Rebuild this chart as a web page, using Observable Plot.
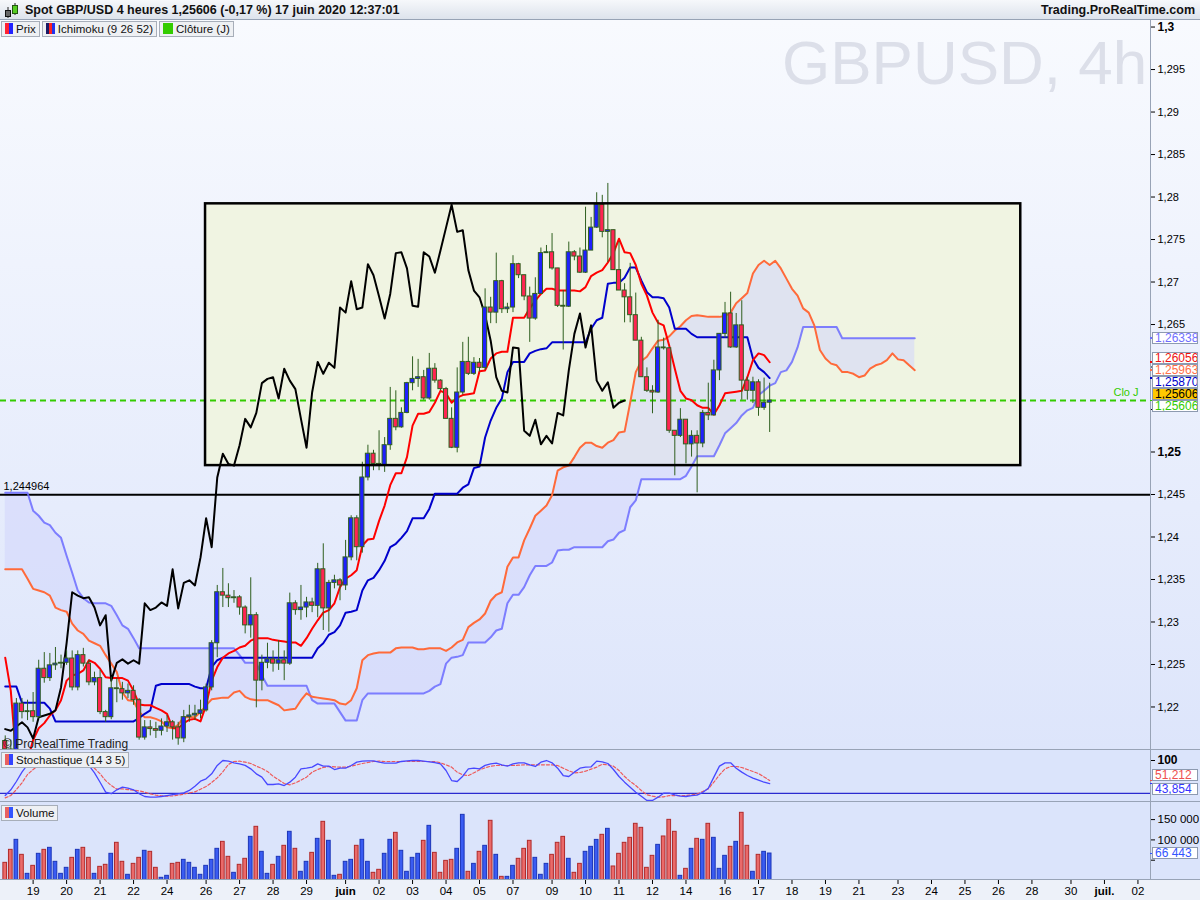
<!DOCTYPE html>
<html><head><meta charset="utf-8">
<script src="https://cdn.jsdelivr.net/npm/d3@7"></script>
<script src="https://cdn.jsdelivr.net/npm/@observablehq/plot@0.6"></script>
<style>
body{margin:0;background:#fff;font-family:"Liberation Sans",Arial,sans-serif;}
#root{position:relative;width:1200px;height:900px;overflow:hidden;}
.a{position:absolute;}
.chips{position:absolute;display:flex;gap:2px;}
.chip{height:16px;border:1px solid #a7aeb9;background:#eef0f3;font-size:11.5px;line-height:15px;color:#111;white-space:nowrap;box-sizing:border-box;padding:0 3px 0 3px;}
.chip i{display:inline-block;width:4px;height:11px;vertical-align:-1px;}
.vbox{position:absolute;left:1152px;width:46px;height:12px;box-sizing:border-box;border:1px solid #8d9ab0;background:#fff;font-size:12px;line-height:10px;padding-left:2px;white-space:nowrap;overflow:hidden;}
.hsep{position:absolute;left:0;width:1200px;height:1px;background:#98a3b6;}
</style></head><body>
<div id="root">
  <div class="a" style="left:0;top:20px;width:1200px;height:730px;background:linear-gradient(#f8fafe,#dde5fb);"></div>
  <div class="a" style="left:0;top:750px;width:1200px;height:52px;background:#dbe4fb;"></div>
  <div class="a" style="left:0;top:802px;width:1200px;height:78px;background:#dbe4fb;"></div>
  <div class="a" style="left:0;top:880px;width:1200px;height:20px;background:#edf1f9;"></div>
  <div class="a" style="left:782px;top:32px;font-size:62px;line-height:62px;color:#dcdfe9;white-space:nowrap;">GBPUSD, 4h</div>
  <div class="a" id="pricePlot" style="left:0;top:20px;"></div>
  <div class="a" id="stochPlot" style="left:0;top:750px;"></div>
  <div class="a" id="volPlot" style="left:0;top:802px;"></div>
  <div class="hsep" style="top:749px"></div>
  <div class="hsep" style="top:801px"></div>
  <div class="hsep" style="top:879px"></div>
  <div class="a" style="left:1150px;top:20px;width:1px;height:860px;background:#98a3b6;"></div>
  <div class="a" style="left:0;top:0;width:1200px;height:20px;background:linear-gradient(#f6f8fb,#dde3ec);border-bottom:1px solid #97a3b5;box-sizing:border-box;"></div>
  <svg class="a" style="left:3px;top:2px" width="18" height="17"><line x1="5" y1="5" x2="5" y2="16" stroke="#222"/><rect x="2.5" y="8.5" width="5" height="6" fill="#666" stroke="#111"/><line x1="12" y1="1" x2="12" y2="13" stroke="#222"/><rect x="9.5" y="3.5" width="5" height="8" fill="#55cc22" stroke="#225511"/></svg>
  <div class="a" style="left:25px;top:3px;font-size:12.5px;font-weight:bold;color:#111;white-space:nowrap;">Spot GBP/USD 4 heures 1,25606 (-0,17 %) 17 juin 2020 12:37:01</div>
  <div class="a" style="right:5px;top:3px;font-size:12.5px;font-weight:bold;color:#111;">Trading.ProRealTime.com</div>
  <div class="chips" style="left:1px;top:21px;">
    <div class="chip"><i style="background:#ff2233"></i><i style="background:#2222ff;margin-right:3px"></i>Prix</div>
    <div class="chip"><i style="background:#1a1a66;width:3px"></i><i style="background:#ff2222;width:3px"></i><i style="background:#2233ee;width:3px;margin-right:3px"></i>Ichimoku (9 26 52)</div>
    <div class="chip"><i style="background:#33cc00;width:10px;margin-right:3px"></i>Clôture (J)</div>
  </div>
  <div class="a" style="left:3px;top:737px;font-size:12px;color:#222;white-space:nowrap;">© ProRealTime Trading</div>
  <div class="chips" style="left:1px;top:752px;">
    <div class="chip"><i style="background:#e86060"></i><i style="background:#3344ff;margin-right:3px"></i>Stochastique (14 3 5)</div>
  </div>
  <div class="chips" style="left:1px;top:805px;">
    <div class="chip"><i style="background:#e86060"></i><i style="background:#3355ff;margin-right:3px"></i>Volume</div>
  </div>
  <div id="labels"></div>
</div>
<script>
// ---------- DATA ----------
const opens = [
1.2160,1.2150,1.2146,1.2204,1.2194,1.2195,1.2188,1.2245,1.2234,1.2249,
1.2251,1.2252,1.2257,1.2223,1.2261,1.2251,1.2229,1.2234,1.2194,1.2188,
1.2222,1.2221,1.2216,1.2219,1.2208,1.2164,1.2176,1.2174,1.2172,1.2177,
1.2182,1.2176,1.2163,1.2188,1.2190,1.2192,1.2196,1.2223,1.2275,1.2335,
1.2331,1.2328,1.2329,1.2317,1.2296,1.2308,1.2231,1.2252,1.2256,1.2251,
1.2255,1.2251,1.2322,1.2314,1.2317,1.2323,1.2319,1.2362,1.2316,1.2346,
1.2349,1.2343,1.2376,1.2422,1.2388,1.2470,1.2498,1.2486,1.2484,1.2508,
1.2539,1.2529,1.2546,1.2581,1.2586,1.2588,1.2563,1.2598,1.2584,1.2574,
1.2539,1.2505,1.2570,1.2606,1.2592,1.2605,1.2599,1.2670,1.2664,1.2701,
1.2668,1.2670,1.2721,1.2708,1.2683,1.2657,1.2686,1.2734,1.2735,1.2716,
1.2672,1.2671,1.2735,1.2730,1.2711,1.2737,1.2764,1.2791,1.2759,1.2761,
1.2714,1.2690,1.2682,1.2661,1.2631,1.2588,1.2572,1.2570,1.2623,1.2622,
1.2525,1.2519,1.2538,1.2509,1.2519,1.2510,1.2546,1.2543,1.2596,1.2639,
1.2663,1.2623,1.2649,1.2584,1.2572,1.2582,1.2552,1.2558];
const highs = [
1.2166,1.2161,1.2210,1.2210,1.2208,1.2217,1.2255,1.2264,1.2263,1.2270,
1.2261,1.2266,1.2266,1.2266,1.2269,1.2255,1.2241,1.2243,1.2196,1.2235,
1.2234,1.2229,1.2227,1.2225,1.2210,1.2184,1.2184,1.2182,1.2186,1.2190,
1.2184,1.2182,1.2196,1.2202,1.2202,1.2208,1.2227,1.2278,1.2343,1.2363,
1.2345,1.2337,1.2331,1.2319,1.2352,1.2311,1.2261,1.2275,1.2266,1.2278,
1.2266,1.2334,1.2325,1.2343,1.2329,1.2328,1.2369,1.2392,1.2349,1.2355,
1.2351,1.2396,1.2425,1.2425,1.2488,1.2508,1.2502,1.2525,1.2517,1.2576,
1.2572,1.2552,1.2582,1.2612,1.2609,1.2596,1.2616,1.2604,1.2585,1.2576,
1.2552,1.2599,1.2629,1.2635,1.2611,1.2610,1.2692,1.2682,1.2734,1.2702,
1.2675,1.2731,1.2722,1.2708,1.2694,1.2705,1.2740,1.2743,1.2757,1.2716,
1.2690,1.2747,1.2737,1.2740,1.2788,1.2776,1.2805,1.2802,1.2816,1.2761,
1.2747,1.2698,1.2722,1.2687,1.2635,1.2599,1.2578,1.2655,1.2634,1.2623,
1.2525,1.2551,1.2522,1.2525,1.2525,1.2549,1.2581,1.2608,1.2639,1.2676,
1.2688,1.2663,1.2678,1.2588,1.2588,1.2585,1.2587,1.2581];
const lows = [
1.2146,1.2139,1.2137,1.2186,1.2184,1.2182,1.2186,1.2228,1.2230,1.2243,
1.2245,1.2249,1.2219,1.2219,1.2247,1.2225,1.2225,1.2191,1.2182,1.2185,
1.2205,1.2208,1.2210,1.2202,1.2161,1.2161,1.2166,1.2163,1.2166,1.2170,
1.2161,1.2155,1.2158,1.2182,1.2184,1.2186,1.2194,1.2219,1.2258,1.2317,
1.2317,1.2322,1.2308,1.2286,1.2281,1.2199,1.2219,1.2245,1.2241,1.2243,
1.2231,1.2249,1.2308,1.2302,1.2305,1.2311,1.2305,1.2290,1.2288,1.2339,
1.2325,1.2337,1.2372,1.2372,1.2381,1.2466,1.2478,1.2478,1.2476,1.2502,
1.2525,1.2528,1.2545,1.2572,1.2576,1.2561,1.2561,1.2581,1.2572,1.2539,
1.2504,1.2499,1.2567,1.2590,1.2590,1.2594,1.2596,1.2651,1.2651,1.2663,
1.2663,1.2664,1.2704,1.2678,1.2629,1.2655,1.2690,1.2734,1.2714,1.2670,
1.2620,1.2670,1.2725,1.2710,1.2710,1.2740,1.2763,1.2752,1.2723,1.2714,
1.2690,1.2652,1.2652,1.2631,1.2588,1.2570,1.2545,1.2569,1.2620,1.2522,
1.2472,1.2517,1.2486,1.2494,1.2452,1.2505,1.2537,1.2543,1.2584,1.2634,
1.2622,1.2622,1.2561,1.2561,1.2557,1.2542,1.2549,1.2523];
const closes = [
1.2150,1.2146,1.2204,1.2194,1.2195,1.2188,1.2245,1.2234,1.2249,1.2251,
1.2252,1.2257,1.2223,1.2261,1.2251,1.2229,1.2234,1.2194,1.2188,1.2222,
1.2221,1.2216,1.2219,1.2208,1.2164,1.2176,1.2174,1.2172,1.2177,1.2182,
1.2176,1.2163,1.2188,1.2190,1.2192,1.2196,1.2223,1.2275,1.2335,1.2331,
1.2328,1.2329,1.2317,1.2296,1.2308,1.2231,1.2252,1.2256,1.2251,1.2255,
1.2251,1.2322,1.2314,1.2317,1.2323,1.2319,1.2362,1.2316,1.2346,1.2349,
1.2343,1.2376,1.2422,1.2388,1.2470,1.2498,1.2486,1.2484,1.2508,1.2539,
1.2529,1.2546,1.2581,1.2586,1.2588,1.2563,1.2598,1.2584,1.2574,1.2539,
1.2505,1.2570,1.2606,1.2592,1.2605,1.2599,1.2670,1.2664,1.2701,1.2668,
1.2670,1.2721,1.2708,1.2683,1.2657,1.2686,1.2734,1.2735,1.2716,1.2672,
1.2671,1.2735,1.2730,1.2711,1.2737,1.2764,1.2791,1.2759,1.2761,1.2714,
1.2690,1.2682,1.2661,1.2631,1.2588,1.2572,1.2570,1.2623,1.2622,1.2525,
1.2519,1.2538,1.2509,1.2519,1.2510,1.2546,1.2543,1.2596,1.2639,1.2663,
1.2623,1.2649,1.2584,1.2572,1.2582,1.2552,1.2558,1.25606];
const volumes = [
43500,75500,100150,63200,16400,36100,65700,75500,80450,46000,
16400,31200,55800,75500,80450,55800,16400,33650,38600,65700,
92800,46000,14000,41000,55800,73100,70600,31200,6600,11500,
41000,43500,50900,43500,31200,14000,36100,50900,78000,95200,
58300,18900,38600,53400,107500,132200,70600,16400,38600,58300,
85400,119900,78000,21400,46000,68100,102600,144500,97700,11500,
14000,46000,50900,85400,100150,46000,18900,26300,65700,100150,
117400,73100,21400,55800,65700,97700,134600,68100,18900,48400,
50900,78000,161700,21400,41000,70600,85400,147000,63200,9000,
9000,36100,53400,78000,97700,55800,14000,41000,63200,92800,
107500,53400,18900,41000,70600,82900,100000,112500,127250,34500,
65700,92800,105100,139600,129700,31200,60750,87800,108400,149400,
119900,11500,28700,78000,102600,100150,139600,105100,28700,60750,
82900,95200,166700,85400,21400,63200,70600,66443];
const tenkan = [
1.2258,1.2219,1.2137,1.2125,1.2137,1.2161,1.2175,1.2181,1.2190,1.2196,
1.2208,1.2231,1.2237,1.2239,1.2243,1.2255,1.2252,1.2245,1.2235,1.2234,
1.2234,1.2234,1.2231,1.2219,1.2203,1.2202,1.2202,1.2199,1.2196,1.2192,
1.2175,1.2175,1.2181,1.2185,1.2186,1.2183,1.2202,1.2231,1.2247,1.2258,
1.2263,1.2266,1.2270,1.2272,1.2278,1.2281,1.2281,1.2281,1.2279,1.2278,
1.2277,1.2276,1.2276,1.2272,1.2281,1.2292,1.2302,1.2311,1.2314,1.2322,
1.2341,1.2351,1.2355,1.2361,1.2390,1.2397,1.2398,1.2419,1.2437,1.2461,
1.2475,1.2475,1.2494,1.2531,1.2545,1.2545,1.2547,1.2558,1.2572,1.2569,
1.2558,1.2564,1.2567,1.2568,1.2569,1.2595,1.2596,1.2610,1.2616,1.2618,
1.2618,1.2658,1.2658,1.2658,1.2669,1.2678,1.2686,1.2692,1.2692,1.2690,
1.2690,1.2690,1.2690,1.2689,1.2694,1.2707,1.2711,1.2714,1.2723,1.2734,
1.2751,1.2735,1.2734,1.2720,1.2698,1.2684,1.2664,1.2652,1.2649,1.2625,
1.2598,1.2572,1.2563,1.2561,1.2555,1.2552,1.2552,1.2544,1.2555,1.2569,
1.2570,1.2571,1.2572,1.2588,1.2608,1.2616,1.2614,1.26056];
const kijun = [
1.2224,1.2224,1.2224,1.2205,1.2205,1.2205,1.2205,1.2205,1.2198,1.2183,
1.2183,1.2183,1.2183,1.2183,1.2183,1.2183,1.2183,1.2183,1.2183,1.2183,
1.2183,1.2183,1.2183,1.2183,1.2187,1.2192,1.2196,1.2225,1.2227,1.2227,
1.2227,1.2227,1.2227,1.2227,1.2224,1.2222,1.2222,1.2247,1.2255,1.2258,
1.2258,1.2258,1.2258,1.2258,1.2258,1.2258,1.2258,1.2258,1.2258,1.2258,
1.2258,1.2258,1.2258,1.2258,1.2258,1.2258,1.2269,1.2275,1.2285,1.2288,
1.2296,1.2311,1.2312,1.2314,1.2337,1.2349,1.2352,1.2361,1.2372,1.2388,
1.2392,1.2399,1.2407,1.2422,1.2422,1.2422,1.2433,1.2451,1.2451,1.2451,
1.2451,1.2451,1.2458,1.2462,1.2481,1.2483,1.2517,1.2537,1.2552,1.2563,
1.2594,1.2606,1.2606,1.2606,1.2616,1.2619,1.2621,1.2622,1.2629,1.2629,
1.2629,1.2629,1.2629,1.2629,1.2629,1.2645,1.2655,1.2658,1.2698,1.2699,
1.2699,1.2705,1.2717,1.2717,1.2702,1.2688,1.2682,1.2682,1.2681,1.2670,
1.2645,1.2645,1.2645,1.2639,1.2635,1.2635,1.2635,1.2635,1.2635,1.2635,
1.2635,1.2635,1.2635,1.2635,1.2610,1.2599,1.2594,1.2587];
const senkouA = [
1.2362,1.2362,1.2362,1.2362,1.2351,1.2339,1.2337,1.2335,1.2331,1.2317,
1.2314,1.2312,1.2298,1.2290,1.2286,1.2278,1.2275,1.2272,1.2261,1.2251,
1.2241,1.2217,1.2208,1.2207,1.2194,1.2188,1.2188,1.2186,1.2183,1.2176,
1.2175,1.2179,1.2188,1.2188,1.2188,1.2194,1.2202,1.2209,1.2210,1.2211,
1.2211,1.2217,1.2219,1.2212,1.2209,1.2208,1.2208,1.2208,1.2205,1.2202,
1.2196,1.2197,1.2198,1.2208,1.2216,1.2212,1.2211,1.2210,1.2209,1.2208,
1.2204,1.2203,1.2208,1.2222,1.2255,1.2261,1.2263,1.2264,1.2264,1.2264,
1.2269,1.2270,1.2270,1.2270,1.2268,1.2268,1.2269,1.2269,1.2269,1.2266,
1.2270,1.2276,1.2279,1.2294,1.2299,1.2303,1.2310,1.2325,1.2332,1.2335,
1.2365,1.2376,1.2376,1.2396,1.2410,1.2425,1.2431,1.2437,1.2449,1.2478,
1.2482,1.2484,1.2494,1.2505,1.2511,1.2511,1.2507,1.2505,1.2511,1.2514,
1.2523,1.2524,1.2558,1.2594,1.2607,1.2612,1.2622,1.2631,1.2632,1.2636,
1.2643,1.2648,1.2655,1.2660,1.2661,1.2660,1.2659,1.2659,1.2659,1.2660,
1.2664,1.2675,1.2681,1.2687,1.2710,1.2720,1.2725,1.2720,1.2725,1.2716,
1.2704,1.2692,1.2684,1.2669,1.2664,1.2649,1.2620,1.2610,1.2604,1.2602,
1.2594,1.2594,1.2592,1.2588,1.2590,1.2598,1.2602,1.2604,1.2608,1.2616,
1.2609,1.2608,1.2602,1.25963];
const senkouB = [
1.2452,1.2452,1.2452,1.2452,1.2452,1.2431,1.2425,1.2417,1.2414,1.2405,
1.2399,1.2378,1.2358,1.2337,1.2328,1.2323,1.2322,1.2322,1.2322,1.2319,
1.2308,1.2296,1.2292,1.2281,1.2269,1.2269,1.2269,1.2269,1.2269,1.2269,
1.2269,1.2269,1.2269,1.2269,1.2269,1.2269,1.2269,1.2269,1.2269,1.2269,
1.2269,1.2269,1.2261,1.2252,1.2252,1.2252,1.2237,1.2225,1.2225,1.2225,
1.2225,1.2225,1.2225,1.2225,1.2225,1.2208,1.2204,1.2204,1.2204,1.2204,
1.2194,1.2184,1.2184,1.2184,1.2208,1.2216,1.2216,1.2216,1.2216,1.2216,
1.2216,1.2216,1.2216,1.2216,1.2216,1.2216,1.2219,1.2224,1.2227,1.2251,
1.2258,1.2259,1.2261,1.2276,1.2276,1.2276,1.2276,1.2282,1.2290,1.2292,
1.2322,1.2332,1.2332,1.2341,1.2355,1.2366,1.2366,1.2366,1.2370,1.2384,
1.2385,1.2385,1.2388,1.2388,1.2388,1.2388,1.2388,1.2388,1.2395,1.2397,
1.2405,1.2408,1.2435,1.2443,1.2468,1.2468,1.2468,1.2468,1.2468,1.2468,
1.2468,1.2468,1.2472,1.2483,1.2495,1.2495,1.2495,1.2495,1.2508,1.2522,
1.2528,1.2534,1.2543,1.2549,1.2552,1.2567,1.2572,1.2578,1.2581,1.2594,
1.2596,1.2606,1.2623,1.2647,1.2647,1.2647,1.2647,1.2647,1.2647,1.2647,
1.26338,1.26338,1.26338,1.26338,1.26338,1.26338,1.26338,1.26338,1.26338,1.26338,
1.26338,1.26338,1.26338,1.26338];
const stochK = [
14.6,28.5,48.8,71.6,90,97,100,100,98,100,
95,92,100,98,95,88,70,47,23,19,
28.5,35,32.5,28.5,19,12.2,10.6,10.6,12.2,14.6,
17,18.7,21,27,37.4,49.6,55.3,67.5,88,100,
98.4,94.3,91.9,88,79.7,67.5,59.4,41.5,41.5,43.1,
39,47.2,59.4,79.7,81.3,83.8,91.9,86.2,86.2,78,
81.3,81.3,87.8,96,98.4,99.2,99.2,96,93.5,93.5,
93.5,97.6,99.2,100,100,98.4,96.8,95.1,91.9,75.6,
51.2,48.8,61.8,79.7,81.3,79.7,88,91.9,93.5,89.4,
86.2,91.9,94.3,94.3,89.4,85.4,96,100,94.3,81.3,
63.4,61,71.6,81.3,83.8,84.6,98.4,96.8,92.7,78,
61,47.2,35,22.8,13,2.5,2.5,10.6,20.3,20.3,
16.3,13,12.2,14.6,15.5,22,32.5,59.4,86.2,94.3,
94.3,81.3,71.6,63.4,56.9,52,47,43.854];
const stochD = [
9,14.6,29,45.5,66,78,88,94,97,98,
98,96,95,96,94,90,81,67.5,51,39,
30,31,29,27.6,26,22.8,18.7,15.5,13.8,13,
13.8,15.5,18,21,23.6,30,36.6,46.4,57.7,72.4,
90.3,97.6,98.4,96,92.7,86.2,80.5,73.2,61.8,52.9,
44,40.7,45.5,52,59.4,71.6,78,83,85.4,84.6,
83.8,83.8,86.2,89.4,92.7,95.1,97.6,98.4,97.6,97.6,
97.6,97.6,97.6,97.6,97.6,97.6,97.6,97.6,94.3,89.4,
83.8,71.6,65,63.4,70,77.3,82.1,86.2,87.8,87.8,
87.8,87.8,88.6,89.4,89.4,89.4,89.4,89.4,89.4,87.8,
81.3,74.8,70,70.8,74,78.9,83.8,91,89.4,86.2,
75.6,61,48.8,39,26.8,16.3,13,10.6,11.4,14.6,
14.6,14.6,14.6,16.3,18,24.4,30.9,47.2,65,79.7,
85.4,85.4,83,78,73.2,68.3,60,51.212];

const CHIKOU_SHIFT = 26;
const BOX_BARS = [35.9, 182];
const BOX_PRICES = [1.2484, 1.2792];
const SUPPORT_LEVEL = 1.244964;
const CLOSE_J = 1.25606;
const PRICE_TICKS = [1.22,1.225,1.23,1.235,1.24,1.245,1.25,1.255,1.26,1.265,1.27,1.275,1.28,1.285,1.29,1.295,1.3];
// 1,255 and 1,26 are hidden behind the value boxes in the reference
const PRICE_TICKS_LABELLED = [1.22,1.225,1.23,1.235,1.24,1.245,1.25,1.265,1.27,1.275,1.28,1.285,1.29,1.295,1.3];
const DAY_TICK_BARS = [5,11,17,23,29,36,42,48,54,61,67,73,79,85,91,98,104,110,116,122,129,135,141,147,153,160,166,172,178,184,191,197,203];
const DAY_TICK_LABELS = ["19","20","21","22","24","26","27","28","29","juin","02","03","04","05","07","09","10","11","12","14","16","17","18","19","21","23","24","25","26","28","30","juil.","02"];
const PRICE_LABEL_VALUES = [1.26338, 1.26056, 1.25963, 1.25870, 1.25606, 1.25606];
const PRICE_LABEL_TEXTS = ["1,26338","1,26056","1,25963","1,25870","1,25606","1,25606"];
const STOCH_LABEL_VALUES = [51.212, 43.854];
const STOCH_LABEL_TEXTS = ["51,212","43,854"];
const VOL_TICKS = [50000, 100000, 150000];
const VOL_TICKS_LABELLED = [100000, 150000];
const VOL_LABEL_VALUES = [66443];
const VOL_LABEL_TEXTS = ["66 443"];

// ---------- SCALES / STYLE ----------
const X_DOMAIN = [-0.846, 205.25];
const PRICE_DOMAIN = [1.21488, 1.30077];
const STOCH_DOMAIN = [-2.4, 124.4];
const VOL_DOMAIN = [0, 192100];
const FONT = "Liberation Sans, Arial, sans-serif";
const UP = "#1f1fff", DOWN = "#ff2452", EDGE = "#2f5f1f";
const PRICE_LABEL_STYLES = [
  {color:"#6f6fff"}, {color:"#ee1111"}, {color:"#ff7048"}, {color:"#0000cc"},
  {color:"#000", bg:"#ffc800"}, {color:"#33cc00"}];
const frFmt = d => String(+d.toFixed(3)).replace(".", ",");
const priceTickFmt = d => PRICE_TICKS_LABELLED.includes(d) ? frFmt(d) : "";
const volTickFmt = d => VOL_TICKS_LABELLED.includes(d) ? d3.format(",")(d).replace(/,/g, " ") : "";

const candles = closes.map((c, k) => ({k, o: opens[k], h: highs[k], l: lows[k], c, up: c >= opens[k]}));
const series = arr => arr.map((v, k) => ({k, v}));
const chikou = closes.slice(CHIKOU_SHIFT).map((v, k) => ({k, v}));
const cloud = senkouA.map((a, k) => ({k, a, b: senkouB[k]}));
const vols = volumes.map((v, k) => ({k, v, up: candles[k].up}));
const box = [{x1: BOX_BARS[0], x2: BOX_BARS[1], y1: BOX_PRICES[0], y2: BOX_PRICES[1]}];

const baseStyle = {background: "transparent", fontFamily: FONT, fontSize: "11px", color: "#000", overflow: "visible"};
function dropEmptyText(svg){ d3.select(svg).selectAll("text").filter(function(){ return this.textContent.trim() === ""; }).remove(); }

// ---------- PRICE PANEL ----------
const price = Plot.plot({
  width: 1200, height: 730, marginTop: 0, marginBottom: 0, marginLeft: 0, marginRight: 50,
  style: baseStyle,
  x: {type: "linear", domain: X_DOMAIN, axis: null},
  y: {type: "linear", domain: PRICE_DOMAIN},
  color: {type: "identity"},
  marks: [
    Plot.rect(box, {x1: "x1", x2: "x2", y1: "y1", y2: "y2", fill: "#f0f4df", fillOpacity: 0.9}),
    Plot.areaY(cloud, {x: "k", y1: "a", y2: "b", fill: "#d2d5fc", fillOpacity: 0.55, clip: true}),
    Plot.ruleY([SUPPORT_LEVEL], {stroke: "#000", strokeWidth: 2}),
    Plot.ruleY([CLOSE_J], {stroke: "#33cc00", strokeWidth: 2, strokeDasharray: "6,4"}),
    Plot.lineY(series(senkouB), {x: "k", y: "v", stroke: "#6b6bff", strokeWidth: 2, strokeOpacity: 0.85, clip: true}),
    Plot.lineY(series(senkouA), {x: "k", y: "v", stroke: "#ff6a3a", strokeWidth: 2, clip: true}),
    Plot.lineY(series(kijun), {x: "k", y: "v", stroke: "#0000cc", strokeWidth: 2, clip: true}),
    Plot.lineY(series(tenkan), {x: "k", y: "v", stroke: "#ff0000", strokeWidth: 2, clip: true}),
    Plot.lineY(chikou, {x: "k", y: "v", stroke: "#000", strokeWidth: 2, clip: true}),
    Plot.ruleX(candles, {x: "k", y1: "l", y2: "h", stroke: EDGE, strokeWidth: 1, clip: true}),
    Plot.rect(candles, {x1: d => d.k - 0.37, x2: d => d.k + 0.37, y1: "o", y2: "c",
      fill: d => d.up ? UP : DOWN, stroke: EDGE, strokeWidth: 1, clip: true}),
    Plot.rect(box, {x1: "x1", x2: "x2", y1: "y1", y2: "y2", fill: "none", stroke: "#000", strokeWidth: 2.5}),
    Plot.text([SUPPORT_LEVEL], {y: d => d, frameAnchor: "left", text: d => String(d).replace(".", ","),
      dx: 3, dy: -8, textAnchor: "start", fontSize: 11, fill: "#000"}),
    Plot.text([CLOSE_J], {y: d => d, frameAnchor: "right", text: () => "Clo J",
      dx: -12, dy: -8, textAnchor: "end", fontSize: 11, fill: "#33cc00"}),
    Plot.axisY({anchor: "right", ticks: PRICE_TICKS, tickFormat: priceTickFmt, tickSize: 4, tickPadding: 3, label: null, fontSize: 11})
  ]
});
document.getElementById("pricePlot").append(price);
dropEmptyText(price);
d3.select(price).selectAll("text").filter(function(){ return this.textContent === "1,3" || this.textContent === "1,25"; })
  .attr("font-weight", "bold").attr("font-size", 12);

// ---------- STOCHASTIC PANEL ----------
const stoch = Plot.plot({
  width: 1200, height: 52, marginTop: 0, marginBottom: 0, marginLeft: 0, marginRight: 50,
  style: baseStyle,
  x: {type: "linear", domain: X_DOMAIN, axis: null},
  y: {type: "linear", domain: STOCH_DOMAIN},
  marks: [
    Plot.ruleY([20], {stroke: "#2b2bd0", strokeWidth: 1.2}),
    Plot.lineY(series(stochD), {x: "k", y: "v", stroke: "#ee5a5a", strokeWidth: 1.2, strokeDasharray: "3,2", clip: true}),
    Plot.lineY(series(stochK), {x: "k", y: "v", stroke: "#4848ff", strokeWidth: 1.3, clip: true}),
    Plot.axisY({anchor: "right", ticks: [100], tickFormat: d => String(d), tickSize: 4, tickPadding: 3, label: null, fontSize: 12})
  ]
});
document.getElementById("stochPlot").append(stoch);
d3.select(stoch).selectAll("text").filter(function(){ return this.textContent === "100"; }).attr("font-weight", "bold");

// ---------- VOLUME PANEL ----------
const tickLabelMap = new Map(DAY_TICK_BARS.map((b, i) => [b, DAY_TICK_LABELS[i]]));
const vol = Plot.plot({
  width: 1200, height: 98, marginTop: 0, marginBottom: 20, marginLeft: 0, marginRight: 50,
  style: baseStyle,
  x: {type: "linear", domain: X_DOMAIN},
  y: {type: "linear", domain: VOL_DOMAIN},
  color: {type: "identity"},
  marks: [
    Plot.rectY(vols, {x1: d => d.k - 0.33, x2: d => d.k + 0.33, y: "v",
      fill: d => d.up ? "#3a5cf2" : "#ea6a6a", stroke: d => d.up ? "#1c35b8" : "#b02a2a", strokeWidth: 1, clip: true}),
    Plot.axisY({anchor: "right", ticks: VOL_TICKS, tickFormat: volTickFmt, tickSize: 4, tickPadding: 3, label: null, fontSize: 11.5}),
    Plot.axisX({ticks: DAY_TICK_BARS, tickFormat: d => tickLabelMap.get(d), tickSize: 4, tickPadding: 2, label: null, fontSize: 11.5})
  ]
});
document.getElementById("volPlot").append(vol);
dropEmptyText(vol);
d3.select(vol).selectAll("text").filter(function(){ return this.textContent === "juin" || this.textContent === "juil."; })
  .attr("font-weight", "bold");

// ---------- RIGHT-AXIS VALUE BOXES ----------
function spread(items, gap){
  for (let it = 0; it < 200; it++) {
    for (let i = 1; i < items.length; i++) {
      const d = items[i].y - items[i-1].y;
      if (d < gap) { const s = (gap - d) / 2; items[i].y += s; items[i-1].y -= s; }
    }
  }
}
const labelsDiv = document.getElementById("labels");
function addBoxes(values, texts, styles, scale, top, gap){
  const items = values.map((v, i) => ({v, i, y0: scale.apply(v) + top, y: scale.apply(v) + top}))
    .sort((a, b) => a.y - b.y || a.i - b.i);
  spread(items, gap);
  for (const it of items) {
    const st = styles[it.i];
    const tick = document.createElement("div");
    tick.className = "a";
    tick.style.cssText = `left:1150px;top:${it.y0 - 0.5}px;width:4px;height:1.5px;background:${st.color};`;
    labelsDiv.append(tick);
    const b = document.createElement("div");
    b.className = "vbox";
    b.style.top = (it.y - 6) + "px";
    b.style.color = st.color;
    if (st.bg) b.style.background = st.bg;
    b.textContent = texts[it.i];
    labelsDiv.append(b);
  }
}
addBoxes(PRICE_LABEL_VALUES, PRICE_LABEL_TEXTS, PRICE_LABEL_STYLES, price.scale("y"), 20, 12);
addBoxes(STOCH_LABEL_VALUES, STOCH_LABEL_TEXTS, [{color:"#ee5050"}, {color:"#3333ff"}], stoch.scale("y"), 750, 14);
addBoxes(VOL_LABEL_VALUES, VOL_LABEL_TEXTS, [{color:"#3355ff"}], vol.scale("y"), 802, 13);
</script>
</body></html>
